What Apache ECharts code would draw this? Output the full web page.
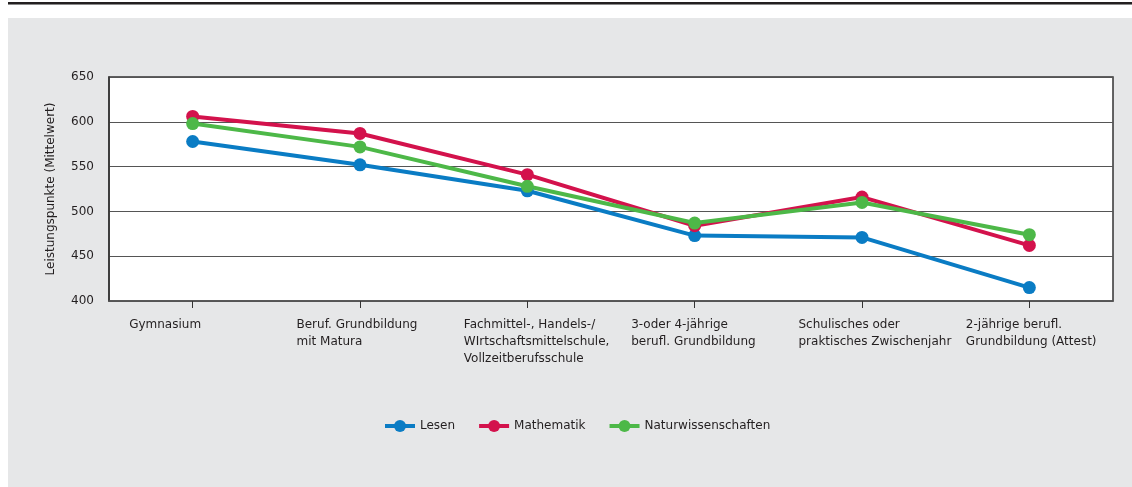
<!DOCTYPE html>
<html>
<head>
    <meta charset="utf-8">
    <script src="https://cdn.jsdelivr.net/npm/echarts@6/dist/echarts.min.js"></script>
    <style>
        html, body { margin: 0; padding: 0; background: #fff; }
    </style>
</head>
<body>
    <div id="main" style="width: 1132px;height:487px;"></div>
    <script type="text/javascript">
        var myChart = echarts.init(document.getElementById('main'));

        // Kategorien (Bildungsgang) und Mittelwerte
        var categories = [
            'Gymnasium',
            'Beruf. Grundbildung\nmit Matura',
            'Fachmittel-, Handels-/\nWIrtschaftsmittelschule,\nVollzeitberufsschule',
            '3-oder 4-jährige\nberufl. Grundbildung',
            'Schulisches oder\npraktisches Zwischenjahr',
            '2-jährige berufl.\nGrundbildung (Attest)'
        ];
        var lesen = [578, 552, 523, 473, 471, 415];
        var mathematik = [606, 587, 541, 484, 516, 462];
        var naturwissenschaften = [598, 572, 528, 487, 510, 474];
        var yTicks = [400, 450, 500, 550, 600, 650];

        var fontFamily = '"DejaVu Sans", sans-serif';

        function lineSeries(name, data, color) {
            return {
                name: name,
                type: 'line',
                data: data,
                symbol: 'circle',
                symbolSize: 13,
                animation: false,
                lineStyle: { width: 4, color: color },
                itemStyle: { color: color }
            };
        }

        var option = {
            backgroundColor: '#ffffff',
            textStyle: { fontFamily: fontFamily },
            graphic: [
                { type: 'rect', z: -10, shape: { x: 8, y: 18, width: 1124, height: 469 }, style: { fill: '#e6e7e8' } },
                { type: 'rect', shape: { x: 8, y: 2, width: 1124, height: 2 }, style: { fill: '#231f20' } },
                { type: 'rect', shape: { x: 8, y: 4, width: 1124, height: 1 }, style: { fill: '#8a8a8a' } }
            ],
            grid: {
                left: 109,
                right: 19,
                top: 77,
                bottom: 186,
                show: true,
                backgroundColor: '#ffffff',
                borderColor: '#333333',
                borderWidth: 1.5
            },
            legend: {
                left: 383,
                top: 420,
                padding: 0,
                itemWidth: 30,
                itemHeight: 15,
                itemGap: 22,
                lineStyle: { width: 4 },
                textStyle: { fontFamily: fontFamily, fontSize: 12, color: '#231f20' },
                data: ['Lesen', 'Mathematik', 'Naturwissenschaften']
            },
            xAxis: {
                type: 'category',
                data: categories,
                boundaryGap: true,
                axisLine: { lineStyle: { color: '#555555', width: 1.5 } },
                axisTick: { show: true, alignWithLabel: true, length: 7, lineStyle: { color: '#333333', width: 1 } },
                axisLabel: {
                    interval: 0,
                    margin: 15,
                    color: '#231f20',
                    formatter: function (v) {
                        return v.split('\n').map(function (s) { return '{a|' + s + '}'; }).join('\n');
                    },
                    rich: {
                        a: { fontFamily: fontFamily, fontSize: 12, lineHeight: 17, width: 127, align: 'left', color: '#231f20' }
                    }
                }
            },
            yAxis: {
                type: 'value',
                min: yTicks[0],
                max: yTicks[yTicks.length - 1],
                interval: 50,
                name: 'Leistungspunkte (Mittelwert)',
                nameLocation: 'middle',
                nameRotate: 90,
                nameGap: 52,
                nameTextStyle: { fontFamily: fontFamily, fontSize: 12, color: '#231f20' },
                axisLine: { show: true, lineStyle: { color: '#333333', width: 1.5 } },
                axisTick: { show: false },
                axisLabel: { margin: 15, fontSize: 12, color: '#231f20', fontFamily: fontFamily },
                splitLine: { lineStyle: { color: '#555555', width: 1 } }
            },
            series: [
                lineSeries('Lesen', lesen, '#0a7cc4'),
                lineSeries('Mathematik', mathematik, '#d3124c'),
                lineSeries('Naturwissenschaften', naturwissenschaften, '#4db848')
            ]
        };

        myChart.setOption(option);
    </script>
</body>
</html>
